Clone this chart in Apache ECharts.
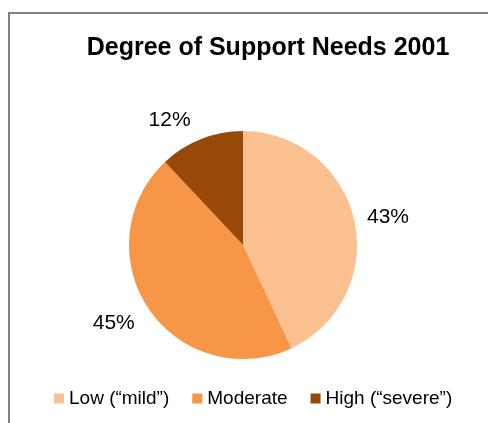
<!DOCTYPE html>
<html>
<head>
<meta charset="utf-8">
<style>
  html, body { margin: 0; padding: 0; background: #ffffff; }
  #chart { width: 488px; height: 423px; }
</style>
<script src="https://cdn.jsdelivr.net/npm/echarts@6/dist/echarts.min.js"></script>
</head>
<body>
<div id="chart"></div>
<script>
// Support needs categories and their shares (percent)
const categories = ['Low (\u201cmild\u201d)', 'Moderate', 'High (\u201csevere\u201d)'];
const shares = [43, 45, 12];
const sliceColors = ['#FAC090', '#F79646', '#984807'];

// Small per-label nudges of the outside percentage labels
const labelNudge = [[1, 0], [-4, 7], [-6, -8]];

const chart = echarts.init(document.getElementById('chart'), null, { renderer: 'canvas' });

const fontFamily = 'Liberation Sans, Arial, sans-serif';

chart.setOption({
  animation: false,
  backgroundColor: '#ffffff',
  title: {
    text: 'Degree of Support Needs 2001',
    left: 263,
    top: 31,
    textAlign: 'center',
    textStyle: { fontFamily, fontSize: 25, fontWeight: 'bold', color: '#000000' }
  },
  legend: {
    top: 389,
    left: 54,
    padding: 0,
    itemWidth: 10,
    itemHeight: 10,
    itemGap: 23,
    icon: 'rect',
    textStyle: { fontFamily, fontSize: 19, color: '#000000' },
    data: categories
  },
  graphic: [{
    type: 'polyline',
    shape: { points: [[9, 423], [9, 13], [488, 13]] },
    style: { stroke: '#808080', lineWidth: 2, fill: null }
  }],
  series: [{
    type: 'pie',
    center: [243, 245],
    radius: 114,
    startAngle: 90,
    clockwise: true,
    color: sliceColors,
    itemStyle: { borderWidth: 0 },
    label: {
      show: true,
      position: 'outside',
      formatter: '{d}%',
      distanceToLabelLine: 0,
      fontFamily,
      fontSize: 21,
      color: '#000000'
    },
    labelLine: { show: false, length: 12, length2: 0 },
    labelLayout: function (params) {
      const n = labelNudge[params.dataIndex];
      return { dx: n[0], dy: n[1] };
    },
    emphasis: { disabled: true },
    data: categories.map((name, i) => ({ name, value: shares[i] }))
  }]
});
</script>
</body>
</html>
